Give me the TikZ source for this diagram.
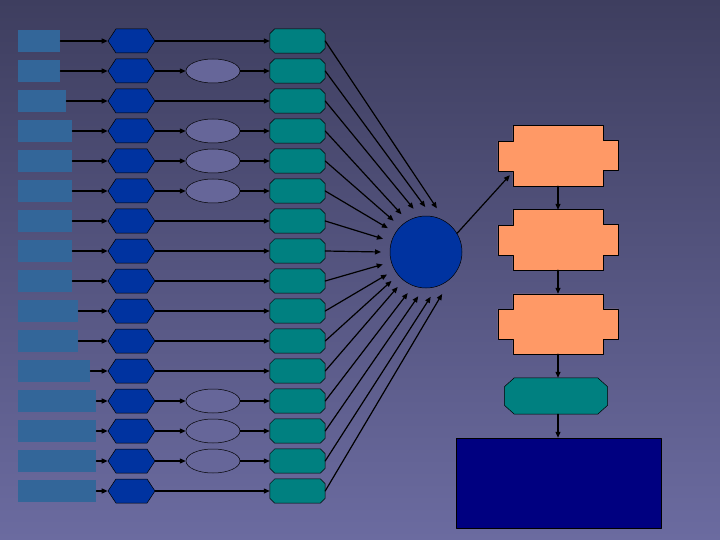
\documentclass[tikz,border=0pt]{standalone}
\usepackage{tikz}
\usetikzlibrary{shapes.geometric,shapes.symbols,arrows.meta}
\definecolor{BgTop}{HTML}{3E3E5F}
\definecolor{BgBottom}{HTML}{6B6BA0}
\definecolor{SteelBlue}{HTML}{336699}
\definecolor{RoyalHex}{HTML}{0033A0}
\definecolor{Lilac}{HTML}{666699}
\definecolor{Teal}{HTML}{008080}
\definecolor{Apricot}{HTML}{FF9966}
\definecolor{Navy}{HTML}{000080}

% octagon round a named node: name, x cut, y cut, fill
\newcommand{\octfill}[4]{%
  \filldraw[fill=#4,draw=black,line width=0.5pt]
    ([xshift=#2]#1.north west) -- ([xshift=-#2]#1.north east) -- ([yshift=-#3]#1.north east)
    -- ([yshift=#3]#1.south east) -- ([xshift=-#2]#1.south east) -- ([xshift=#2]#1.south west)
    -- ([yshift=#3]#1.south west) -- ([yshift=-#3]#1.north west) -- cycle;}

\tikzset{
  itembox/.style={rectangle,fill=SteelBlue,inner sep=0pt,minimum height=22pt,anchor=west},
  hexbox/.style={signal,signal to=east and west,signal pointer angle=113,draw=black,line width=0.5pt,fill=RoyalHex,inner sep=0pt,minimum width=47pt,minimum height=24pt},
  ovalbox/.style={ellipse,draw=black,line width=0.5pt,fill=Lilac,inner sep=0pt,minimum width=54pt,minimum height=24pt},
  octbox/.style={rectangle,inner sep=0pt,minimum width=55pt,minimum height=24pt},
  link/.style={->,line width=1.2pt,black}
}

\begin{document}
\begin{tikzpicture}[line cap=round,line join=round,>={Triangle[length=6pt,width=5pt]},x=1pt,y=-1pt]
    \shade[top color=BgTop,bottom color=BgBottom] (0,0) rectangle (720,540);
    \useasboundingbox (0,0) rectangle (720,540);

    % sixteen rows
    \foreach \w [count=\i from 0] in {42,42,48,54,54,54,54,54,54,60,60,72,78,78,78,78} {
        \node[itembox,minimum width=\w pt] (r\i) at (18,{41+30*\i}) {};
        \node[hexbox] (h\i) at (131.5,{41+30*\i}) {};
        \node[octbox] (t\i) at (297.5,{41+30*\i}) {};
        \octfill{t\i}{5pt}{5pt}{Teal}
        \draw[link] (r\i.east) -- (h\i.west);
    }
    \foreach \i in {0,2,6,7,8,9,10,11,15}
        \draw[link] (h\i.east) -- (t\i.west);
    \foreach \i in {1,3,4,5,12,13,14} {
        \node[ovalbox] (e\i) at (213,{41+30*\i}) {};
        \draw[link] (h\i.east) -- (e\i.west);
        \draw[link] (e\i.east) -- (t\i.west);
    }

    % central circle
    \node[circle,draw=black,line width=0.5pt,fill=RoyalHex,minimum size=72pt,inner sep=0pt] (hub) at (426,252) {};
    \foreach \a [count=\i from 0] in {76,91,106,123,136,148,163,180,196,210,220,231,246,260,276,291}
        \draw[link] (t\i.east) -- ([shift={(-\a:45)}]hub.center);

    % right column
    \foreach \y [count=\k] in {156,240,324} {
        \node[minimum width=90pt,minimum height=60pt,inner sep=0pt] (f\k) at (558,\y) {};
        \filldraw[fill=Apricot,draw=black,line width=0.6pt] (f\k.north west) -- (f\k.north east) -- ++(0,15) -- ++(15,0) -- ++(0,30) -- ++(-15,0)
            -- (f\k.south east) -- (f\k.south west) -- ++(0,-15) -- ++(-15,0) -- ++(0,-30) -- ++(15,0) -- cycle;
    }
    \node[rectangle,inner sep=0pt,minimum width=103pt,minimum height=36pt] (gate) at (556,396) {};
    \octfill{gate}{10pt}{9pt}{Teal}
    \node[rectangle,draw=black,line width=0.5pt,fill=Navy,inner sep=0pt,minimum width=205pt,minimum height=90pt] (out) at (558.5,483) {};

    \coordinate (f1in) at ([shift={(-3,-11)}]f1.south west);
    \draw[link] (hub.31) -- (f1in);
    \draw[link] (f1.south) -- (f2.north);
    \draw[link] (f2.south) -- (f3.north);
    \draw[link] (f3.south) -- (f3.south |- gate.north);
    \draw[link] (gate.south -| f3.south) -- (f3.south |- out.north);
\end{tikzpicture}
\end{document}
